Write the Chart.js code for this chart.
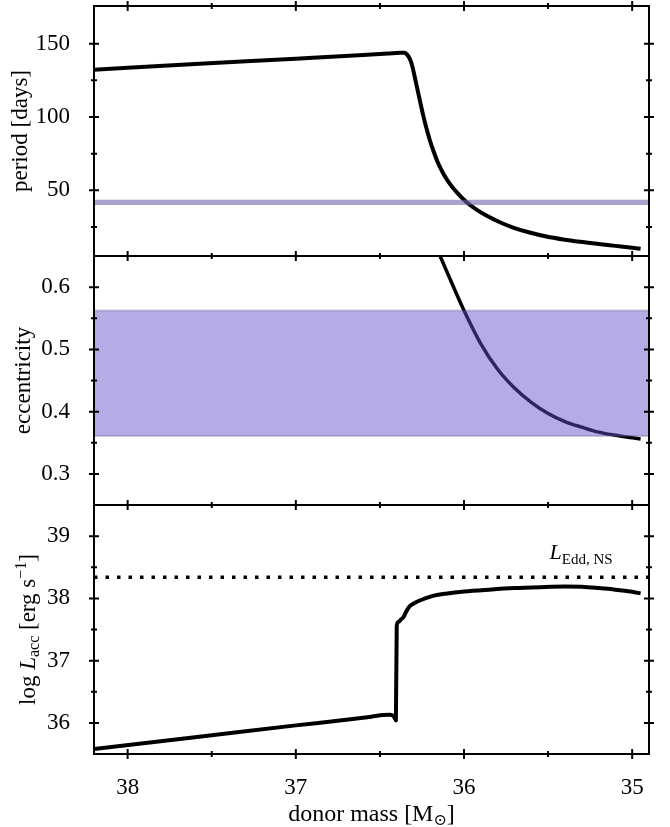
<!DOCTYPE html>
<html>
<head>
<meta charset="utf-8">
<script src="https://cdn.jsdelivr.net/npm/chart.js@4.4.1/dist/chart.umd.min.js"></script>
<style>
  body { margin: 0; background: #fff; }
  #wrap { position: relative; width: 670px; height: 827px; }
  #wrap canvas { position: absolute; left: 0; }
</style>
</head>
<body>
<div id="wrap">
  <canvas id="periodChart" width="670" height="256" style="top:0px"></canvas>
  <canvas id="eccChart" width="670" height="249" style="top:256px"></canvas>
  <canvas id="lumChart" width="670" height="322" style="top:505px"></canvas>
</div>
<script>
// shared x axis: donor mass, decreasing to the right
const massMin = 34.9, massMax = 38.2;
const massTicks = [38, 37, 36, 35];
const massMinor = [37.5, 36.5, 35.5];

// top panel: orbital period
const periodMass = [38.2, 37.6, 37.0, 36.6, 36.45, 36.38, 36.355, 36.34, 36.325, 36.31, 36.295, 36.28, 36.26, 36.244, 36.224, 36.204, 36.18, 36.155, 36.12, 36.085, 36.04, 35.986, 35.93, 35.867, 35.79, 35.708, 35.61, 35.51, 35.41, 35.31, 35.2, 35.1, 35.0, 34.95];
const periodDays = [132.3, 136.1, 139.8, 142.3, 143.3, 143.8, 143.8, 142.8, 140.3, 135.8, 128.5, 120.5, 110.0, 101.8, 92.6, 84.5, 76.3, 68.8, 60.8, 54.6, 48.2, 42.0, 37.2, 32.8, 28.4, 24.6, 21.2, 18.5, 16.5, 14.9, 13.4, 12.1, 10.8, 10.1];
const periodBand = [40.0, 43.6];
const periodTicks = [50, 100, 150];
const periodMinor = [25, 75, 125];

// middle panel: eccentricity
const eccMass = [36.22, 36.144, 36.07, 36.0, 35.9, 35.8, 35.7, 35.6, 35.5, 35.4, 35.3, 35.2, 35.1, 35.0, 34.95];
const eccValues = [0.70, 0.651, 0.605, 0.5625, 0.509, 0.468, 0.438, 0.415, 0.397, 0.384, 0.375, 0.367, 0.362, 0.358, 0.356];
const eccBand = [0.361, 0.5625];
const eccTicks = [0.3, 0.4, 0.5, 0.6];
const eccMinor = [0.35, 0.45, 0.55];

// bottom panel: accretion luminosity
const lumMass = [38.2, 37.6, 37.0, 36.7, 36.55, 36.48, 36.44, 36.42, 36.41, 36.405, 36.40, 36.39, 36.375, 36.36, 36.345, 36.33, 36.31, 36.28, 36.24, 36.18, 36.1, 36.0, 35.85, 35.7, 35.55, 35.4, 35.3, 35.2, 35.1, 35.0, 34.95];
const lumValues = [35.58, 35.77, 35.96, 36.05, 36.10, 36.125, 36.13, 36.11, 36.07, 36.04, 37.56, 37.62, 37.66, 37.70, 37.78, 37.85, 37.90, 37.945, 37.99, 38.045, 38.08, 38.11, 38.14, 38.165, 38.18, 38.19, 38.185, 38.165, 38.14, 38.105, 38.08];
const lumEdd = 38.34;
const lumTicks = [36, 37, 38, 39];
const lumMinor = [36.5, 37.5, 38.5];
const eddLabelMass = 35.5, eddLabelLum = 38.63;

const serif = "'Liberation Serif', 'DejaVu Serif', serif";
const tickFont = { family: serif, size: 23 };

function pts(xs, ys) {
    return xs.map((x, i) => ({ x: x, y: ys[i] }));
}
function flat(y) {
    return [{ x: massMax, y: y }, { x: massMin, y: y }];
}

function drawRich(ctx, parts, cx, cy, angle) {
    ctx.save();
    ctx.translate(cx, cy);
    ctx.rotate(angle);
    ctx.fillStyle = '#000';
    ctx.textBaseline = 'alphabetic';
    let w = 0;
    parts.forEach(p => { ctx.font = p.font; w += ctx.measureText(p.text).width; });
    let x = -w / 2;
    parts.forEach(p => {
        ctx.font = p.font;
        ctx.fillText(p.text, x, p.dy || 0);
        x += ctx.measureText(p.text).width;
    });
    ctx.restore();
}

const big = '23px ' + serif, small = '16px ' + serif, bigItalic = 'italic 23px ' + serif;

// frame, in-out ticks on all four sides, and titles
const frame = {
    id: 'frame',
    afterDatasetsDraw(chart) {
        const { ctx, chartArea: a, scales: { x, y } } = chart;
        const cfg = chart.config.options.frameCfg;
        ctx.save();
        ctx.strokeStyle = '#000';
        ctx.lineWidth = 2;
        ctx.beginPath();
        const xMark = (vals, len) => vals.forEach(v => {
            const px = x.getPixelForValue(v);
            ctx.moveTo(px, a.top - len); ctx.lineTo(px, a.top + len);
            ctx.moveTo(px, a.bottom - len); ctx.lineTo(px, a.bottom + len);
        });
        const yMark = (vals, len) => vals.forEach(v => {
            const py = y.getPixelForValue(v);
            ctx.moveTo(a.left - len, py); ctx.lineTo(a.left + len, py);
            ctx.moveTo(a.right - len, py); ctx.lineTo(a.right + len, py);
        });
        xMark(massTicks, 5);
        xMark(massMinor, 3);
        yMark(cfg.major, 5);
        yMark(cfg.minor, 3);
        ctx.stroke();
        ctx.strokeRect(a.left, a.top, a.width, a.height);
        ctx.restore();

        drawRich(ctx, cfg.title, cfg.titleX, (a.top + a.bottom) / 2, -Math.PI / 2);
        if (cfg.extra) cfg.extra(chart);
    }
};

function makePanel(id, datasets, yMin, yMax, major, minor, title, titleX, showX, pad, extra) {
    return new Chart(document.getElementById(id), {
        type: 'line',
        data: { datasets: datasets },
        options: {
            responsive: false,
            animation: false,
            layout: { autoPadding: false, padding: pad },
            frameCfg: { major: major, minor: minor, title: title, titleX: titleX, extra: extra },
            plugins: { legend: { display: false }, tooltip: { enabled: false } },
            elements: { point: { radius: 0 } },
            scales: {
                x: {
                    type: 'linear', reverse: true, min: massMin, max: massMax,
                    display: showX,
                    grid: { display: false }, border: { display: false },
                    ticks: { font: tickFont, color: '#000', padding: 12, maxRotation: 0 },
                    afterBuildTicks: s => { s.ticks = massTicks.map(v => ({ value: v })); },
                    afterFit: s => {
                        s.paddingLeft = 0; s.paddingRight = 0;
                        s.height = showX ? 73 : 0;
                    }
                },
                y: {
                    type: 'linear', min: yMin, max: yMax,
                    grid: { display: false }, border: { display: false },
                    ticks: { font: tickFont, color: '#000', padding: 16 },
                    afterBuildTicks: s => { s.ticks = major.map(v => ({ value: v })); },
                    afterFit: s => {
                        s.paddingTop = 0; s.paddingBottom = 0;
                        s.width = 94;
                    }
                }
            }
        },
        plugins: [frame]
    });
}

const curve = (data, w) => ({
    data: data, borderColor: '#000', borderWidth: w, order: 2,
    cubicInterpolationMode: 'monotone', borderJoinStyle: 'round', fill: false
});

// period
makePanel('periodChart', [
    curve(pts(periodMass, periodDays), 4),
    { data: flat(periodBand[1]), borderWidth: 0, order: 1, fill: false },
    { data: flat(periodBand[0]), borderWidth: 0, order: 1, fill: '-1', backgroundColor: 'rgba(110,100,170,0.6)' }
], 5.2, 175.7, periodTicks, periodMinor,
    [{ text: 'period [days]', font: big }], 27, false, { top: 6, right: 21, bottom: 0, left: 0 });

// eccentricity
makePanel('eccChart', [
    curve(pts(eccMass, eccValues), 3.5),
    { data: flat(eccBand[1]), borderWidth: 2, borderColor: 'rgba(90,85,130,0.3)', order: 1, fill: false },
    { data: flat(eccBand[0]), borderWidth: 2, borderColor: 'rgba(90,85,130,0.3)', order: 1, fill: '-1', backgroundColor: 'rgba(95,78,200,0.47)' }
], 0.25, 0.65, eccTicks, eccMinor,
    [{ text: 'eccentricity', font: big }], 30, false, { top: 0, right: 21, bottom: 0, left: 0 });

// accretion luminosity
makePanel('lumChart', [
    curve(pts(lumMass, lumValues), 4),
    { data: flat(lumEdd), borderColor: '#000', borderWidth: 3.5, borderDash: [3.5, 8], borderCapStyle: 'butt', order: 1, fill: false }
], 35.5, 39.5, lumTicks, lumMinor,
    [
        { text: 'log ', font: big },
        { text: 'L', font: bigItalic },
        { text: 'acc', font: small, dy: 4 },
        { text: ' [erg s', font: big },
        { text: '\u22121', font: small, dy: -9 },
        { text: ']', font: big }
    ], 35, true, { top: 0, right: 21, bottom: 0, left: 0 },
    function (chart) {
        const { ctx, scales: { x, y } } = chart;
        drawRich(ctx, [
            { text: 'L', font: 'italic 22px ' + serif },
            { text: 'Edd, NS', font: '15px ' + serif, dy: 5 }
        ], x.getPixelForValue(eddLabelMass) + 33, y.getPixelForValue(eddLabelLum), 0);
        const a = chart.chartArea;
        drawRich(ctx, [
            { text: 'donor mass [M', font: '24px ' + serif },
            { text: '\u2299', font: small, dy: 4 },
            { text: ']', font: '24px ' + serif }
        ], (a.left + a.right) / 2, 316, 0);
    });
</script>
</body>
</html>
